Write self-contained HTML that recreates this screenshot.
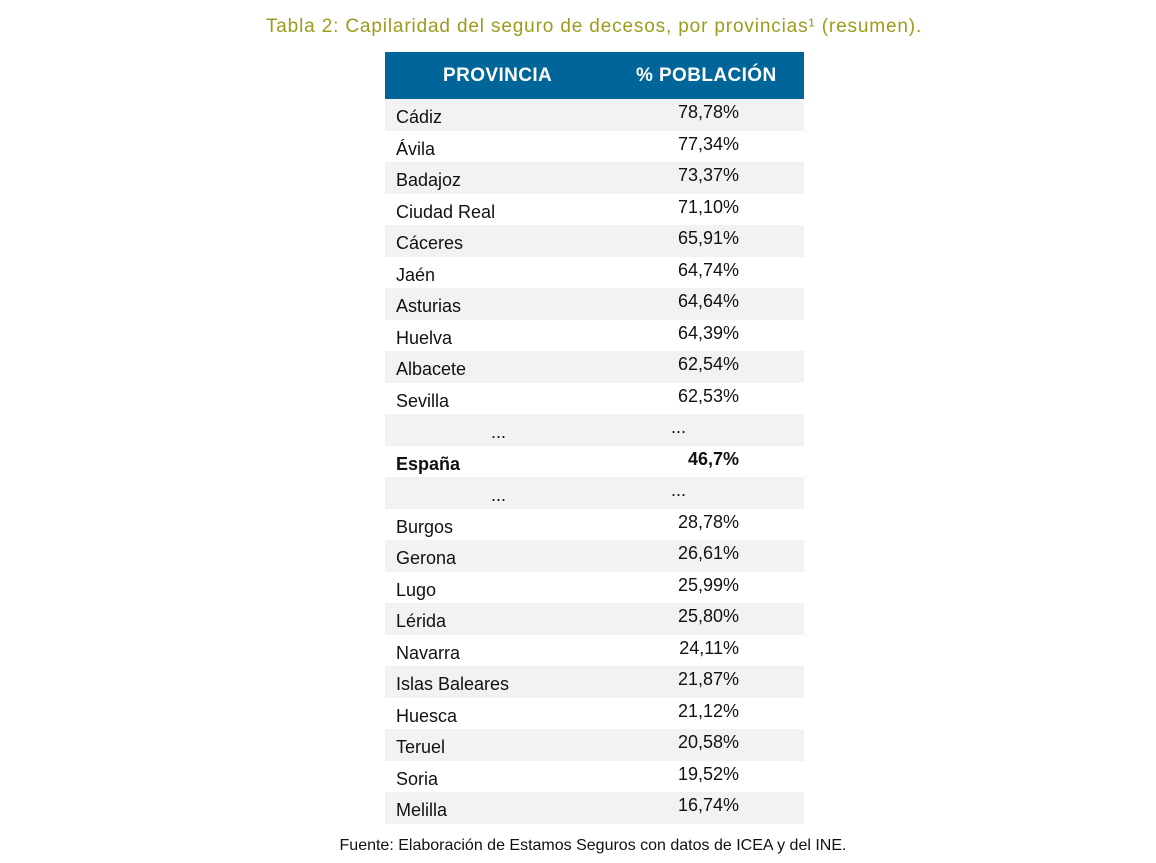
<!DOCTYPE html>
<html><head><meta charset="utf-8"><style>
body{margin:0;width:1156px;height:863px;background:#fff;font-family:"Liberation Sans",sans-serif;position:relative;overflow:hidden}
.t{position:absolute;left:0;width:1188px;text-align:center;top:16px;font-size:19px;letter-spacing:0.85px;color:#9c9c1c}
.h{position:absolute;left:385px;top:52px;width:419px;height:47px;background:#006699;color:#fff;font-weight:bold;font-size:19px;letter-spacing:0.4px}
.h span{position:absolute;top:13px}
.r{position:absolute;left:385px;width:419px;height:31.5px;font-size:18px;color:#111}
.g{background:#f2f2f2}
.r .a{position:absolute;left:11px;top:8px}
.r .b{position:absolute;right:65px;top:3px}
.f{position:absolute;left:0;width:1186px;text-align:center;top:837px;font-size:16px;color:#111}
</style></head><body>
<div class="t">Tabla 2: Capilaridad del seguro de decesos, por provincias¹ (resumen).</div>
<div class="h"><span style="left:58px">PROVINCIA</span><span style="left:251px">% POBLACIÓN</span></div>
<div class="r g" style="top:99px"><span class="a">Cádiz</span><span class="b">78,78%</span></div>
<div class="r" style="top:130.5px"><span class="a">Ávila</span><span class="b">77,34%</span></div>
<div class="r g" style="top:162px"><span class="a">Badajoz</span><span class="b">73,37%</span></div>
<div class="r" style="top:193.5px"><span class="a">Ciudad Real</span><span class="b">71,10%</span></div>
<div class="r g" style="top:225px"><span class="a">Cáceres</span><span class="b">65,91%</span></div>
<div class="r" style="top:256.5px"><span class="a">Jaén</span><span class="b">64,74%</span></div>
<div class="r g" style="top:288px"><span class="a">Asturias</span><span class="b">64,64%</span></div>
<div class="r" style="top:319.5px"><span class="a">Huelva</span><span class="b">64,39%</span></div>
<div class="r g" style="top:351px"><span class="a">Albacete</span><span class="b">62,54%</span></div>
<div class="r" style="top:382.5px"><span class="a">Sevilla</span><span class="b">62,53%</span></div>
<div class="r g" style="top:414px"><span class="a" style="left:106px">...</span><span class="b" style="right:118px">...</span></div>
<div class="r" style="top:445.5px;font-weight:bold"><span class="a">España</span><span class="b">46,7%</span></div>
<div class="r g" style="top:477px"><span class="a" style="left:106px">...</span><span class="b" style="right:118px">...</span></div>
<div class="r" style="top:508.5px"><span class="a">Burgos</span><span class="b">28,78%</span></div>
<div class="r g" style="top:540px"><span class="a">Gerona</span><span class="b">26,61%</span></div>
<div class="r" style="top:571.5px"><span class="a">Lugo</span><span class="b">25,99%</span></div>
<div class="r g" style="top:603px"><span class="a">Lérida</span><span class="b">25,80%</span></div>
<div class="r" style="top:634.5px"><span class="a">Navarra</span><span class="b">24,11%</span></div>
<div class="r g" style="top:666px"><span class="a">Islas Baleares</span><span class="b">21,87%</span></div>
<div class="r" style="top:697.5px"><span class="a">Huesca</span><span class="b">21,12%</span></div>
<div class="r g" style="top:729px"><span class="a">Teruel</span><span class="b">20,58%</span></div>
<div class="r" style="top:760.5px"><span class="a">Soria</span><span class="b">19,52%</span></div>
<div class="r g" style="top:792px"><span class="a">Melilla</span><span class="b">16,74%</span></div>
<div class="f">Fuente: Elaboración de Estamos Seguros con datos de ICEA y del INE.</div>
</body></html>
